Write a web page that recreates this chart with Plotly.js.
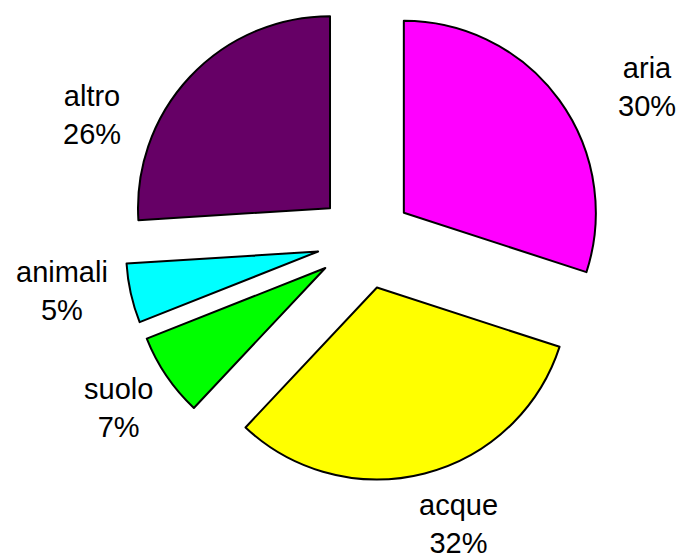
<!DOCTYPE html>
<html>
<head>
<meta charset="utf-8">
<script src="https://cdn.plot.ly/plotly-3.0.1.min.js"></script>
<style>html,body{margin:0;padding:0;background:#fff;}#chart{width:679px;height:559px;}</style>
</head>
<body>
<div id="chart"></div>
<script>
const categories = ["aria", "acque", "suolo", "animali", "altro"];
const values = [30, 32, 7, 5, 26];
const percentLabels = ["30%", "32%", "7%", "5%", "26%"];
const colors = ["#ff00ff", "#ffff00", "#00ff00", "#00ffff", "#660066"];

// label placement (pixel positions of label block centres in the 679x559 figure)
const labelPos = [[647, 87], [458, 524], [118, 408], [62, 291], [92, 115]];

const W = 679, H = 559;
const M = { l: 125, r: 74, t: 1, b: 78 };
const pw = W - M.l - M.r, ph = H - M.t - M.b;

const trace = {
  type: "pie",
  labels: categories,
  values: values,
  sort: false,
  direction: "clockwise",
  rotation: 0,
  pull: values.map(() => 0.25),
  marker: { colors: colors, line: { color: "#000000", width: 2 } },
  textinfo: "none",
  automargin: false,
  hoverinfo: "none",
  showlegend: false
};

const annotations = categories.map((c, i) => ({
  text: c + "<br>" + percentLabels[i],
  xref: "paper", yref: "paper",
  x: (labelPos[i][0] - M.l) / pw,
  y: 1 - (labelPos[i][1] - M.t) / ph,
  xanchor: "center", yanchor: "middle",
  showarrow: false,
  align: "center",
  font: { family: "Liberation Sans, Arial, sans-serif", size: 29, color: "#000000" }
}));

const layout = {
  width: W,
  height: H,
  margin: M,
  paper_bgcolor: "#ffffff",
  plot_bgcolor: "#ffffff",
  showlegend: false,
  annotations: annotations
};

Plotly.newPlot("chart", [trace], layout, { staticPlot: true, displayModeBar: false });
</script>
</body>
</html>
